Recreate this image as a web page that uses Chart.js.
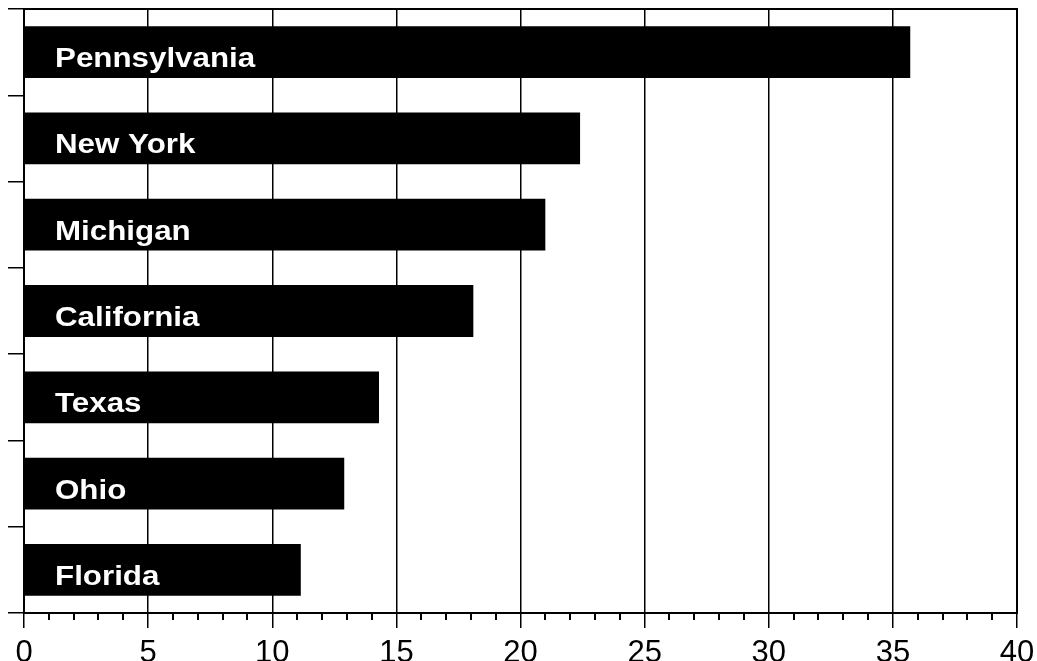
<!DOCTYPE html>
<html>
<head>
<meta charset="utf-8">
<script src="https://cdn.jsdelivr.net/npm/chart.js@4/dist/chart.umd.min.js"></script>
<style>
  html, body { margin: 0; padding: 0; background: #fff; }
  #wrap { width: 1037px; height: 661px; }
</style>
</head>
<body>
<div id="wrap"><canvas id="chart" width="1037" height="661"></canvas></div>
<script>
// Data
const states = ["Pennsylvania", "New York", "Michigan", "California", "Texas", "Ohio", "Florida"];
const values = [35.7, 22.4, 21.0, 18.1, 14.3, 12.9, 11.15];
const xTicks = [0, 5, 10, 15, 20, 25, 30, 35, 40];

// white state names inside bars (the print face is a bit wide, so stretch it)
const barLabels = {
  id: "barLabels",
  afterDatasetsDraw(chart) {
    const c = chart.ctx;
    const x0 = chart.scales.x.getPixelForValue(0);
    c.save();
    c.fillStyle = "#fff";
    c.font = "bold 27px 'Liberation Sans', Arial, sans-serif";
    c.textBaseline = "alphabetic";
    chart.getDatasetMeta(0).data.forEach((bar, i) => {
      c.save();
      c.translate(x0 + 31, bar.y + 15);
      c.scale(1.16, 1);
      c.fillText(states[i], 0, 0);
      c.restore();
    });
    c.restore();
  }
};

// box border + minor ticks on the x axis
const frame = {
  id: "frame",
  afterDraw(chart) {
    const c = chart.ctx;
    const a = chart.chartArea;
    const xs = chart.scales.x;
    c.save();
    c.strokeStyle = "#000";
    c.lineWidth = 2;
    c.strokeRect(a.left, a.top, a.right - a.left, a.bottom - a.top);
    c.beginPath();
    for (let v = xs.min; v <= xs.max; v++) {
      if (v % 5 === 0) continue;
      const px = Math.round(xs.getPixelForValue(v));
      c.moveTo(px, a.bottom);
      c.lineTo(px, a.bottom + 7);
    }
    c.stroke();
    c.restore();
  }
};

new Chart(document.getElementById("chart"), {
  type: "bar",
  data: {
    labels: states,
    datasets: [{
      data: values,
      backgroundColor: "#000",
      borderWidth: 0,
      barPercentage: 0.6,
      categoryPercentage: 1.0
    }]
  },
  options: {
    indexAxis: "y",
    responsive: false,
    animation: false,
    layout: { padding: { left: 8, right: 20, top: 9, bottom: -18 } },
    plugins: { legend: { display: false }, tooltip: { enabled: false } },
    scales: {
      x: {
        min: 0,
        max: 40,
        afterBuildTicks(scale) {
          scale.ticks = xTicks.map(v => ({ value: v }));
        },
        afterFit(scale) {
          scale.paddingLeft = 0;
          scale.paddingRight = 0;
        },
        ticks: {
          color: "#000",
          font: { size: 31, lineHeight: 1, family: "'Liberation Sans', Arial, sans-serif" },
          padding: 10,
          maxRotation: 0
        },
        grid: { color: "#000", lineWidth: 1.5, tickLength: 15 },
        border: { color: "#000", width: 2 }
      },
      y: {
        ticks: { display: false },
        grid: { offset: true, drawOnChartArea: false, color: "#000", lineWidth: 1.5, tickLength: 16 },
        border: { color: "#000", width: 2 }
      }
    }
  },
  plugins: [barLabels, frame]
});
</script>
</body>
</html>
